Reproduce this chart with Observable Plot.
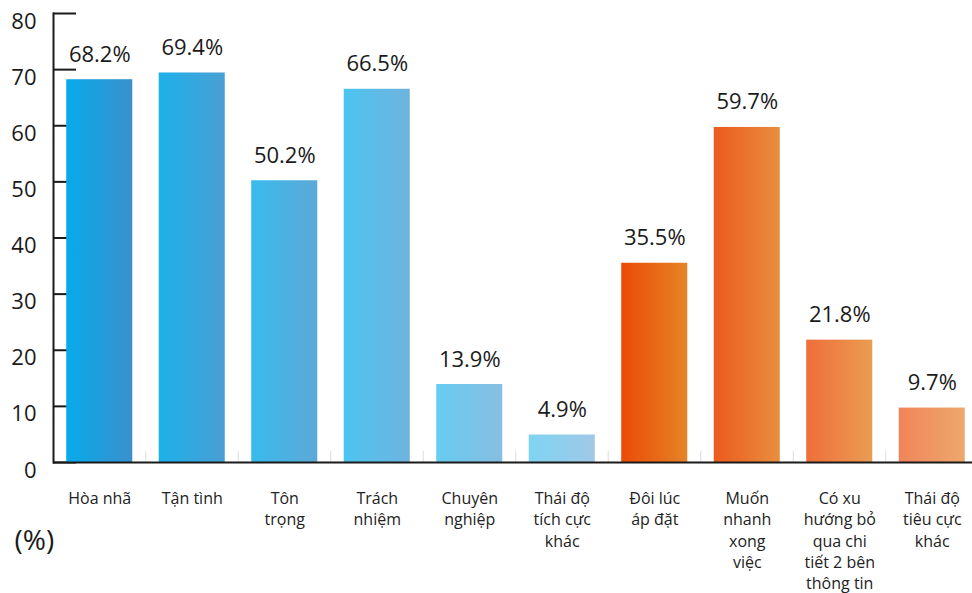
<!DOCTYPE html>
<html>
<head>
<meta charset="utf-8">
<script src="https://cdn.jsdelivr.net/npm/d3@7"></script>
<script src="https://cdn.jsdelivr.net/npm/@observablehq/plot@0.6"></script>
<style>
  html, body { margin: 0; padding: 0; background: #fff; }
  #chart svg { display: block; }
</style>
</head>
<body>
<div id="chart"></div>
<script>
const categories = ["Hòa nhã", "Tận tình", "Tôn trọng", "Trách nhiệm", "Chuyên nghiệp",
  "Thái độ tích cực khác", "Đôi lúc áp đặt", "Muốn nhanh xong việc",
  "Có xu hướng bỏ qua chi tiết 2 bên thông tin", "Thái độ tiêu cực khác"];
const tickLabels = ["Hòa nhã", "Tận tình", "Tôn\ntrọng", "Trách\nnhiệm", "Chuyên\nnghiệp",
  "Thái độ\ntích cực\nkhác", "Đôi lúc\náp đặt", "Muốn\nnhanh\nxong\nviệc",
  "Có xu\nhướng bỏ\nqua chi\ntiết 2 bên\nthông tin", "Thái độ\ntiêu cực\nkhác"];
const values = [68.2, 69.4, 50.2, 66.5, 13.9, 4.9, 35.5, 59.7, 21.8, 9.7];
const yTicks = [0, 10, 20, 30, 40, 50, 60, 70, 80];
const leftColors = ["#06abea", "#1cb1ea", "#38bbec", "#4cc4f0", "#67ccf2", "#7fd4f4",
  "#ec4a06", "#ec5a1e", "#ef6d3b", "#f0845a"];
const rightColors = ["#3a90cd", "#4a9fd3", "#5da8d8", "#6fb3de", "#88bee2", "#a0c8e6",
  "#e58426", "#e88e3e", "#ea9d52", "#eda86c"];

const data = categories.map((c, i) => ({cat: c, value: values[i], grad: `url(#grad${i})`}));
const font = "'Open Sans', 'Noto Sans', sans-serif";
const ink = "#1a1a1a";

const svg = Plot.plot({
  width: 972,
  height: 593,
  marginTop: 13,
  marginBottom: 131,
  marginLeft: 53,
  marginRight: 0,
  style: {fontFamily: font, color: ink, background: "#fff"},
  x: {type: "band", domain: categories, range: [53, 978], paddingInner: 0.286, paddingOuter: 0.143, round: false, label: null},
  y: {domain: [0, 80], label: null},
  color: {type: "identity"},
  marks: [
    Plot.axisY(yTicks, {anchor: "left", tickSize: 23, dx: 23, strokeWidth: 2, stroke: ink, tickFormat: () => ""}),
    Plot.axisY(yTicks, {anchor: "left", tickSize: 0, tickPadding: 17, dy: 8, fontSize: 22, fill: ink}),
    Plot.axisX({anchor: "bottom", tickSize: 0, tickPadding: 26, fontSize: 16, lineHeight: 1.34, fill: "#222",
      tickFormat: d => tickLabels[categories.indexOf(d)]}),
    Plot.ruleX(categories, {x: d => d, dx: 46, y1: 0, y2: 2, stroke: "#dcdcdc", strokeWidth: 1}),
    Plot.barY(data, {x: "cat", y: "value", fill: "grad"}),
    Plot.ruleY([0], {stroke: ink, strokeWidth: 2}),
    Plot.frame({anchor: "left", stroke: ink, strokeWidth: 2}),
    Plot.text(data, {x: "cat", y: "value", text: d => d.value.toFixed(1) + "%", dy: -25, fontSize: 22, fill: ink}),
    Plot.text(["(%)"], {text: d => d, frameAnchor: "bottom-left", textAnchor: "start", dx: -39, dy: 87, fontSize: 28, fill: ink})
  ]
});

const defs = d3.select(svg).insert("defs", ":first-child");
leftColors.forEach((c, i) => {
  const g = defs.append("linearGradient").attr("id", `grad${i}`)
    .attr("x1", "0").attr("x2", "1").attr("y1", "0").attr("y2", "0");
  g.append("stop").attr("offset", "0%").attr("stop-color", c);
  g.append("stop").attr("offset", "100%").attr("stop-color", rightColors[i]);
});

document.getElementById("chart").appendChild(svg);
</script>
</body>
</html>
